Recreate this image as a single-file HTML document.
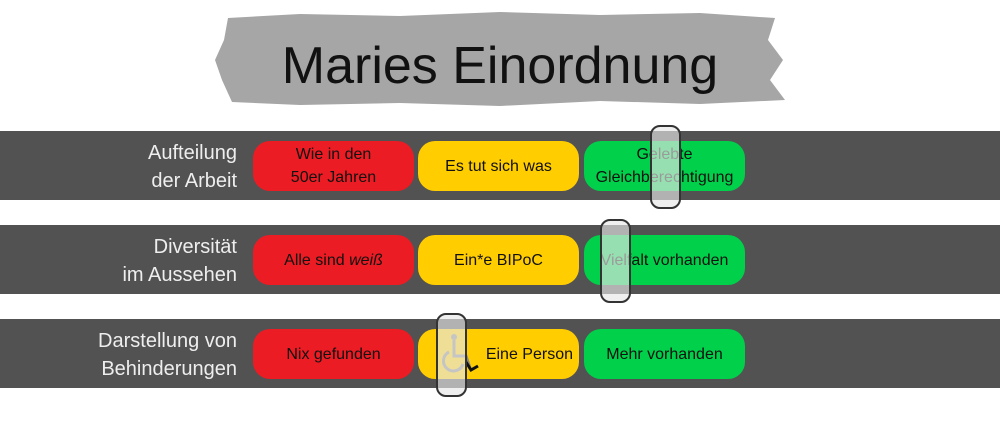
<!DOCTYPE html>
<html><head><meta charset="utf-8"><style>
body{margin:0;width:1000px;height:431px;background:#fff;position:relative;overflow:hidden;font-family:"Liberation Sans",sans-serif}
.band{position:absolute;left:0;width:1000px;height:69px;background:#525252}
.lab{position:absolute;right:763px;width:240px;text-align:right;color:#eee;font-size:20px;line-height:28px}
.b{position:absolute;height:50px;border-radius:17px;display:flex;align-items:center;justify-content:center;text-align:center;font-size:16px;line-height:23px;color:#111}
.r{background:#ec1c24;left:253px;width:161px}
.y{background:#ffcd00;left:418px;width:161px}
.g{background:#00d04a;left:584px;width:161px}
.s{position:absolute;width:27px;height:80px;border:2px solid #333;border-radius:10px;background:rgba(230,230,230,.65)}
</style></head><body>
<svg style="position:absolute;left:0;top:0" width="1000" height="120">
<path d="M228 18 L300 14 L400 16 L500 12 L600 15 L700 13 L775 18 L768 40 L783 60 L770 80 L785 100 L700 104 L600 101 L500 106 L400 103 L300 105 L232 102 L222 80 L215 60 L224 40 Z" fill="#a6a6a6"/>
<text x="500" y="83" text-anchor="middle" font-family="Liberation Sans" font-size="52" fill="#111">Maries Einordnung</text>
</svg>
<div class="band" style="top:131px"></div>
<div class="band" style="top:225px"></div>
<div class="band" style="top:319px"></div>
<div class="lab" style="top:139px">Aufteilung<br>der Arbeit</div>
<div class="lab" style="top:233px">Diversität<br>im Aussehen</div>
<div class="lab" style="top:327px">Darstellung von<br>Behinderungen</div>
<div class="b r" style="top:141px">Wie in den<br>50er Jahren</div>
<div class="b y" style="top:141px">Es tut sich was</div>
<div class="b g" style="top:141px">Gelebte<br>Gleichberechtigung</div>
<div class="b r" style="top:235px">Alle sind&nbsp;<i>weiß</i></div>
<div class="b y" style="top:235px">Ein*e BIPoC</div>
<div class="b g" style="top:235px">Vielfalt vorhanden</div>
<div class="b r" style="top:329px">Nix gefunden</div>
<div class="b y" style="top:329px;justify-content:flex-end;padding-right:6px;box-sizing:border-box">Eine Person</div>
<div class="b g" style="top:329px">Mehr vorhanden</div>
<svg style="position:absolute;left:436px;top:328px" width="50" height="50">
<circle cx="18" cy="9" r="3" fill="#888"/><path d="M18 12 V28 H30 L34 40" stroke="#888" stroke-width="3" fill="none"/>
<path d="M13 24 A10 10 0 1 0 27 36" stroke="#888" stroke-width="3" fill="none"/>
<path d="M30 34 L35 42 L42 38" stroke="#111" stroke-width="3" fill="none"/>
</svg>
<div class="s" style="left:650px;top:125px"></div>
<div class="s" style="left:600px;top:219px"></div>
<div class="s" style="left:436px;top:313px"></div>
</body></html>
